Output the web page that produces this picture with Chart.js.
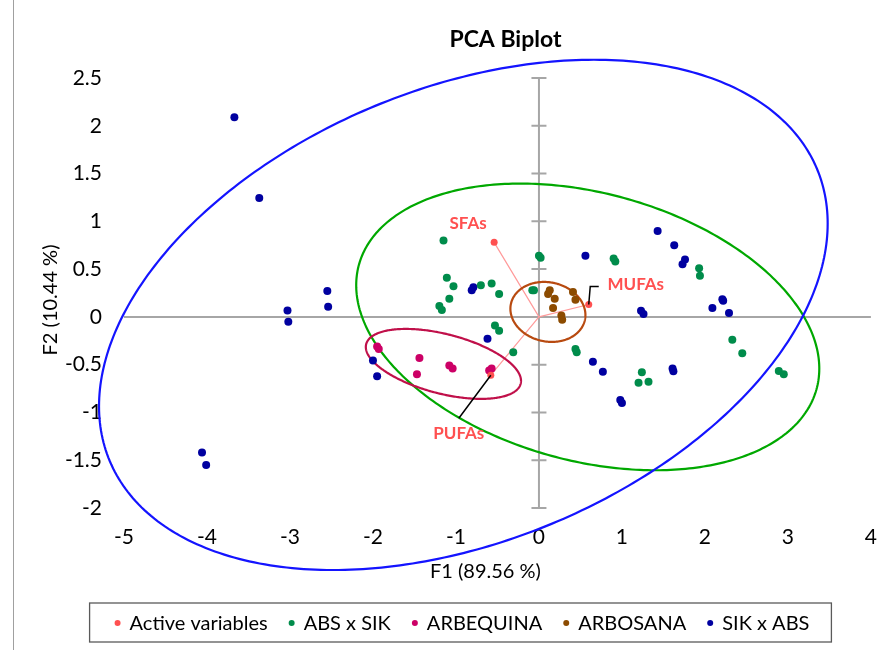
<!DOCTYPE html>
<html>
<head>
<meta charset="utf-8">
<script src="https://cdn.jsdelivr.net/npm/chart.js@4/dist/chart.umd.min.js"></script>
<style>
  html, body { margin: 0; padding: 0; background: #fff; }
  #wrap { width: 894px; height: 650px; position: relative; }
</style>
</head>
<body>
<div id="wrap"><canvas id="c" width="894" height="650"></canvas></div>
<script>
// ---- observations (F1, F2) ----
const seriesNames = ['Active variables', 'ABS x SIK', 'ARBEQUINA', 'ARBOSANA', 'SIK x ABS'];

const activeNames = ['SFAs', 'MUFAs', 'PUFAs'];
const activeX = [-0.54, 0.60, -0.58];
const activeY = [0.78, 0.13, -0.61];

const absSikX = [-1.15, 0.00, 0.02, -1.11, -1.03, -1.08, -1.20, -1.17, -0.70, -0.57, -0.48, -0.08, -0.06,
                 -0.53, -0.48, -0.31, 0.90, 0.92, 1.93, 1.94, 2.33, 2.45, 2.89, 2.95, 1.24, 1.20, 1.32, 0.44, 0.455];
const absSikY = [0.80, 0.64, 0.62, 0.41, 0.32, 0.19, 0.115, 0.073, 0.33, 0.35, 0.24, 0.28, 0.28,
                 -0.09, -0.146, -0.37, 0.61, 0.58, 0.51, 0.43, -0.24, -0.38, -0.565, -0.60, -0.58, -0.69, -0.68, -0.335, -0.37];

const arbequinaX = [-1.95, -1.93, -1.44, -1.47, -1.08, -1.04, -0.60, -0.57];
const arbequinaY = [-0.31, -0.335, -0.43, -0.60, -0.51, -0.54, -0.56, -0.54];

const arbosanaX = [0.13, 0.11, 0.19, 0.17, 0.41, 0.44, 0.27, 0.28];
const arbosanaY = [0.28, 0.24, 0.19, 0.094, 0.26, 0.18, 0.014, -0.03];

const sikAbsX = [-3.67, -3.37, -2.55, -2.54, -3.03, -3.02, -2.00, -1.95, -4.06, -4.01, -0.81, -0.79, -0.62, 0.56,
                 1.43, 1.63, 1.76, 1.73, 1.23, 1.26, 2.09, 2.21, 2.22, 2.29, 0.65, 0.77, 1.61, 1.62, 0.98, 1.00];
const sikAbsY = [2.09, 1.245, 0.27, 0.105, 0.066, -0.05, -0.457, -0.62, -1.42, -1.55, 0.28, 0.31, -0.23, 0.64,
                 0.90, 0.75, 0.60, 0.55, 0.063, 0.03, 0.094, 0.185, 0.17, 0.04, -0.47, -0.575, -0.54, -0.57, -0.87, -0.90];

// ---- axes ----
const xTickValues = [-5, -4, -3, -2, -1, 0, 1, 2, 3, 4];
const xTickLabels = ['-5', '-4', '-3', '-2', '-1', '0', '1', '2', '3', '4'];
const yTickValues = [-2, -1.5, -1, -0.5, 0, 0.5, 1, 1.5, 2, 2.5];
const yTickLabels = ['-2', '-1.5', '-1', '-0.5', '0', '0.5', '1', '1.5', '2', '2.5'];

// ---- confidence ellipses: centre, half-extent on each axis, phase of F2 against F1 (deg) ----
const ellipseGroups = ['ABS x SIK', 'ARBEQUINA', 'ARBOSANA', 'SIK x ABS'];
const ellipseCx = [0.588, -1.151, 0.108, -0.911];
const ellipseCy = [-0.105, -0.492, 0.052, 0.021];
const ellipseRx = [2.79, 0.935, 0.452, 4.39];
const ellipseRy = [1.50, 0.366, 0.314, 2.67];
const ellipsePhase = [-16.9, -29, -6, 21];

const pointColors = ['#FF5050', '#008C4B', '#CC0066', '#8C4B00', '#0000A0'];
const ellipseColors = ['#00A800', '#C0104A', '#B84A10', '#1414FF'];

const FONT = 'Lato, "Open Sans", sans-serif';

function pts(xs, ys) { return xs.map((x, i) => ({ x: x, y: ys[i] })); }

const biplotPlugin = {
  id: 'biplot',
  beforeDatasetsDraw(chart) {
    const ctx = chart.ctx, xs = chart.scales.x, ys = chart.scales.y;
    const x0 = xs.getPixelForValue(0), y0 = ys.getPixelForValue(0);
    ctx.save();
    // axes crossing at the origin
    ctx.strokeStyle = '#A6A6A6';
    ctx.lineWidth = 2;
    ctx.beginPath();
    ctx.moveTo(xs.getPixelForValue(xTickValues[0]), y0);
    ctx.lineTo(xs.getPixelForValue(xTickValues[xTickValues.length - 1]), y0);
    ctx.moveTo(x0, ys.getPixelForValue(yTickValues[yTickValues.length - 1]));
    ctx.lineTo(x0, ys.getPixelForValue(yTickValues[0]));
    yTickValues.forEach(v => {
      const py = ys.getPixelForValue(v);
      ctx.moveTo(x0 - 7.5, py);
      ctx.lineTo(x0 + 7.5, py);
    });
    ctx.stroke();

    // variable vectors
    ctx.strokeStyle = '#FF9A9A';
    ctx.lineWidth = 1.2;
    ctx.beginPath();
    activeX.forEach((v, i) => {
      ctx.moveTo(x0, y0);
      ctx.lineTo(xs.getPixelForValue(v), ys.getPixelForValue(activeY[i]));
    });
    ctx.stroke();

    // ellipses
    ctx.lineWidth = 2.2;
    ellipseGroups.forEach((g, i) => {
      const ph = ellipsePhase[i] * Math.PI / 180;
      ctx.strokeStyle = ellipseColors[i];
      ctx.beginPath();
      for (let k = 0; k <= 360; k++) {
        const t = k * Math.PI / 180;
        const px = xs.getPixelForValue(ellipseCx[i] + ellipseRx[i] * Math.cos(t));
        const py = ys.getPixelForValue(ellipseCy[i] + ellipseRy[i] * Math.sin(t + ph));
        if (k === 0) ctx.moveTo(px, py); else ctx.lineTo(px, py);
      }
      ctx.closePath();
      ctx.stroke();
    });
    ctx.restore();
  },
  afterDatasetsDraw(chart) {
    const ctx = chart.ctx, xs = chart.scales.x, ys = chart.scales.y;
    const area = chart.chartArea;
    ctx.save();
    // variable labels with leader lines
    const P = activeX.map((v, i) => [xs.getPixelForValue(v), ys.getPixelForValue(activeY[i])]);
    ctx.strokeStyle = '#000';
    ctx.lineWidth = 1.5;
    ctx.beginPath();
    ctx.moveTo(P[1][0], P[1][1]);
    ctx.lineTo(P[1][0] + 1.5, P[1][1] - 18);
    ctx.lineTo(P[1][0] + 10, P[1][1] - 18);
    ctx.moveTo(P[2][0], P[2][1]);
    ctx.lineTo(P[2][0] - 32, P[2][1] + 43);
    ctx.stroke();

    ctx.fillStyle = '#FF5050';
    ctx.font = 'bold 17px ' + FONT;
    ctx.textAlign = 'center';
    ctx.textBaseline = 'middle';
    const off = [[-26, -19], [47, -20], [-32, 58]];
    activeNames.forEach((n, i) => ctx.fillText(n, P[i][0] + off[i][0], P[i][1] + off[i][1]));

    // title and axis titles
    ctx.fillStyle = '#000';
    ctx.font = 'bold 23px ' + FONT;
    ctx.fillText('PCA Biplot', (area.left + area.right) / 2 + 8, 40);
    ctx.font = '20px ' + FONT;
    ctx.fillText('F1 (89.56 %)', (area.left + area.right) / 2 - 12, 572);
    ctx.save();
    ctx.translate(51, 300);
    ctx.rotate(-Math.PI / 2);
    ctx.fillText('F2 (10.44 %)', 0, 0);
    ctx.restore();

    // legend
    ctx.font = '20px ' + FONT;
    ctx.textAlign = 'left';
    const widths = seriesNames.map(n => ctx.measureText(n).width);
    const gap = 24, dotToText = 12, padL = 28, padR = 22;
    let total = 0;
    widths.forEach((w, i) => { total += dotToText + w + (i < widths.length - 1 ? gap : 0); });
    const boxW = total + padL + padR;
    const boxL = 460.5 - boxW / 2;
    let x = boxL + padL;
    const ly = 623;
    ctx.strokeStyle = '#5A5A5A';
    ctx.lineWidth = 1.3;
    ctx.strokeRect(boxL, 603, boxW, 39);
    seriesNames.forEach((n, i) => {
      ctx.fillStyle = pointColors[i];
      ctx.beginPath();
      ctx.arc(x, ly, 3, 0, Math.PI * 2);
      ctx.fill();
      ctx.fillStyle = '#000';
      ctx.fillText(n, x + dotToText, ly + 1);
      x += dotToText + widths[i] + gap;
    });

    // outer frame edge
    ctx.strokeStyle = '#A0A0A0';
    ctx.lineWidth = 1;
    ctx.beginPath();
    ctx.moveTo(13.5, 0);
    ctx.lineTo(13.5, 650);
    ctx.stroke();
    ctx.restore();
  }
};

const ds = (label, data, color, r) => ({
  label: label, data: data, backgroundColor: color, borderColor: color,
  pointRadius: r, pointBorderWidth: 0, pointHoverRadius: r, showLine: false
});

new Chart(document.getElementById('c'), {
  type: 'scatter',
  data: {
    datasets: [
      ds(seriesNames[0], pts(activeX, activeY), pointColors[0], 3.5),
      ds(seriesNames[1], pts(absSikX, absSikY), pointColors[1], 4),
      ds(seriesNames[2], pts(arbequinaX, arbequinaY), pointColors[2], 4),
      ds(seriesNames[3], pts(arbosanaX, arbosanaY), pointColors[3], 4),
      ds(seriesNames[4], pts(sikAbsX, sikAbsY), pointColors[4], 4)
    ]
  },
  options: {
    responsive: false,
    animation: false,
    devicePixelRatio: 1,
    layout: { padding: { left: 0, right: 19, top: 78, bottom: 0 } },
    plugins: { legend: { display: false }, title: { display: false }, tooltip: { enabled: false } },
    scales: {
      x: {
        type: 'linear', min: -5, max: 4,
        grid: { display: false, drawTicks: false }, border: { display: false },
        afterBuildTicks: s => { s.ticks = xTickValues.map(v => ({ value: v })); },
        afterFit: s => { s.height = 142; },
        ticks: {
          autoSkip: false, maxRotation: 0, padding: 17, color: '#000',
          font: { family: FONT, size: 21 },
          callback: (v, i) => xTickLabels[i]
        }
      },
      y: {
        type: 'linear', min: -2, max: 2.5,
        grid: { display: false, drawTicks: false }, border: { display: false },
        afterBuildTicks: s => { s.ticks = yTickValues.map(v => ({ value: v })); },
        afterFit: s => { s.width = 124; },
        ticks: {
          autoSkip: false, padding: 22, color: '#000',
          font: { family: FONT, size: 21 },
          callback: (v, i) => yTickLabels[i]
        }
      }
    }
  },
  plugins: [biplotPlugin]
});
</script>
</body>
</html>
